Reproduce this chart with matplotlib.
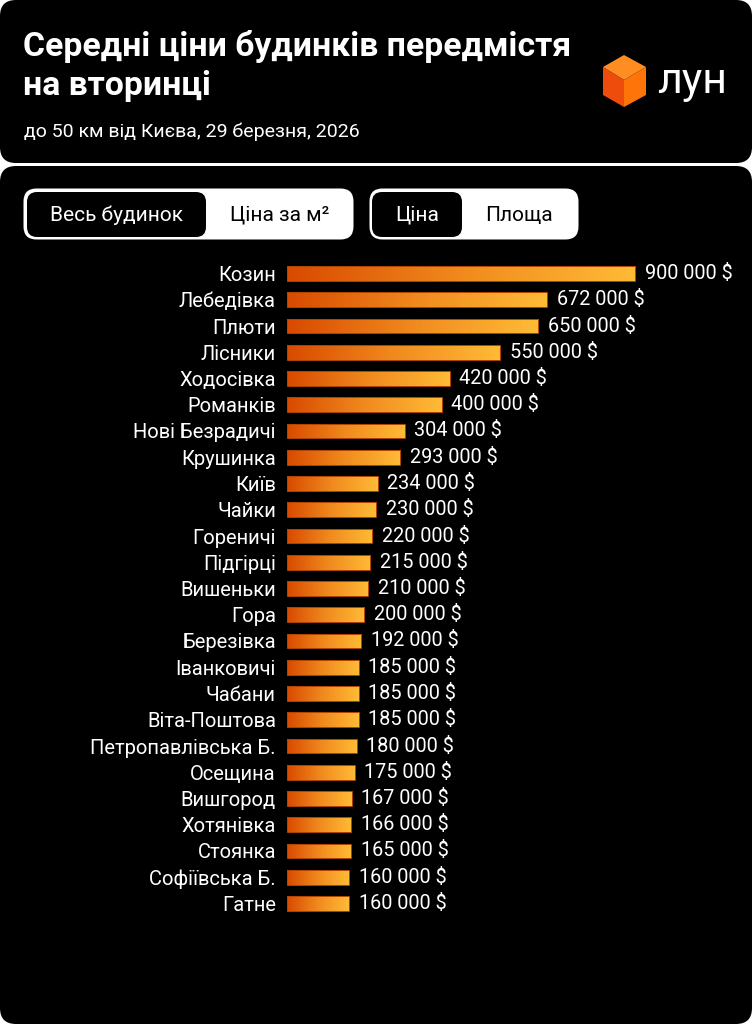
import numpy as np
import matplotlib.pyplot as plt
from matplotlib.patches import FancyBboxPatch, Polygon
from matplotlib.colors import LinearSegmentedColormap

# data
towns = ["Козин", "Лебедівка", "Плюти", "Лісники", "Ходосівка", "Романків",
         "Нові Безрадичі", "Крушинка", "Київ", "Чайки", "Гореничі", "Підгірці",
         "Вишеньки", "Гора", "Березівка", "Іванковичі", "Чабани", "Віта-Поштова",
         "Петропавлівська Б.", "Осещина", "Вишгород", "Хотянівка", "Стоянка",
         "Софіївська Б.", "Гатне"]
prices = [900000, 672000, 650000, 550000, 420000, 400000, 304000, 293000,
          234000, 230000, 220000, 215000, 210000, 200000, 192000, 185000,
          185000, 185000, 180000, 175000, 167000, 166000, 165000, 160000, 160000]

title_lines = ["Середні ціни будинків передмістя", "на вторинці"]
subtitle = "до 50 км від Києва, 29 березня, 2026"
toggle_1 = ["Весь будинок", "Ціна за м²"]
toggle_2 = ["Ціна", "Площа"]

plt.rcParams['font.family'] = ['Roboto', 'DejaVu Sans']

W, H = 752, 1024
fig = plt.figure(figsize=(W / 100, H / 100), dpi=100, facecolor="white")

# background layer in pixel coordinates
bg = fig.add_axes([0, 0, 1, 1])
bg.set_xlim(0, W)
bg.set_ylim(H, 0)
bg.axis("off")


def rbox(x, y, w, h, r, color):
    bg.add_patch(FancyBboxPatch((x, y), w, h,
                                boxstyle=f"round,pad=0,rounding_size={r}",
                                fc=color, ec="none"))


rbox(0, 0, W, 163, 16, "black")
rbox(0, 166, W, H - 166, 16, "black")

# header
bg.text(23, 56, title_lines[0], color="white", fontsize=24.3, fontweight="bold",
        va="baseline")
bg.text(23, 95, title_lines[1], color="white", fontsize=24.3, fontweight="bold",
        va="baseline")
bg.text(24, 137, subtitle, color="white", fontsize=14, va="baseline")

# logo cube
T, UL, UR, C = (624, 55), (603, 67), (646, 67), (624, 80)
LL, LR, B = (603, 95), (646, 95), (624, 107)
bg.add_patch(Polygon([T, UR, C, UL], fc="#ff8d22", ec="none"))
bg.add_patch(Polygon([UL, C, B, LL], fc="#ee4c0c", ec="none"))
bg.add_patch(Polygon([C, UR, LR, B], fc="#ff7408", ec="none"))
bg.text(657, 93, "лун", color="white", fontsize=31, va="baseline")

# toggles
rbox(23.5, 188.5, 330, 51, 13, "white")
rbox(27, 192, 179, 45, 10, "black")
bg.text(116, 215, toggle_1[0], color="white", fontsize=15, ha="center", va="center")
bg.text(280, 215, toggle_1[1], color="black", fontsize=15, ha="center", va="center")
rbox(369.5, 188.5, 209, 51, 13, "white")
rbox(372, 192, 90, 45, 10, "black")
bg.text(417, 215, toggle_2[0], color="white", fontsize=15, ha="center", va="center")
bg.text(519, 215, toggle_2[1], color="black", fontsize=15, ha="center", va="center")

# bar chart
row = 26.25
n = len(towns)
top_px = 273.5 - row / 2
bot_px = top_px + row * n
x0_px, w_px = 287, 390
xmax = 1008000
ax = fig.add_axes([x0_px / W, 1 - bot_px / H, w_px / W, (bot_px - top_px) / H])
ax.set_facecolor("none")
for s in ax.spines.values():
    s.set_visible(False)
ax.set_xticks([])
ax.set_yticks(range(n))
ax.set_yticklabels(towns, color="white", fontsize=14.5)
ax.tick_params(axis="y", length=0, pad=8)

cmap = LinearSegmentedColormap.from_list("lun", ["#d84a00", "#f08a1e", "#ffbb36"])
grad = np.linspace(0, 1, 256).reshape(1, -1)
bh = 0.57
bars = ax.barh(range(n), prices, height=bh, fc="none", ec="#b04400", lw=0.7,
               zorder=3)
for i, (v, bar) in enumerate(zip(prices, bars)):
    im = ax.imshow(grad, cmap=cmap, aspect="auto", interpolation="bicubic",
                   extent=[0, v, i + bh / 2, i - bh / 2], zorder=2)
    im.set_clip_path(bar)
    label = f"{v:,}".replace(",", " ") + " $"
    ax.annotate(label, (v, i), xytext=(7, 0), textcoords="offset points",
                color="white", fontsize=14.3, va="center", ha="left",
                annotation_clip=False)
ax.set_xlim(0, xmax)
ax.set_ylim(n - 0.5, -0.5)

fig.savefig("out.png", dpi=100, facecolor="white")
